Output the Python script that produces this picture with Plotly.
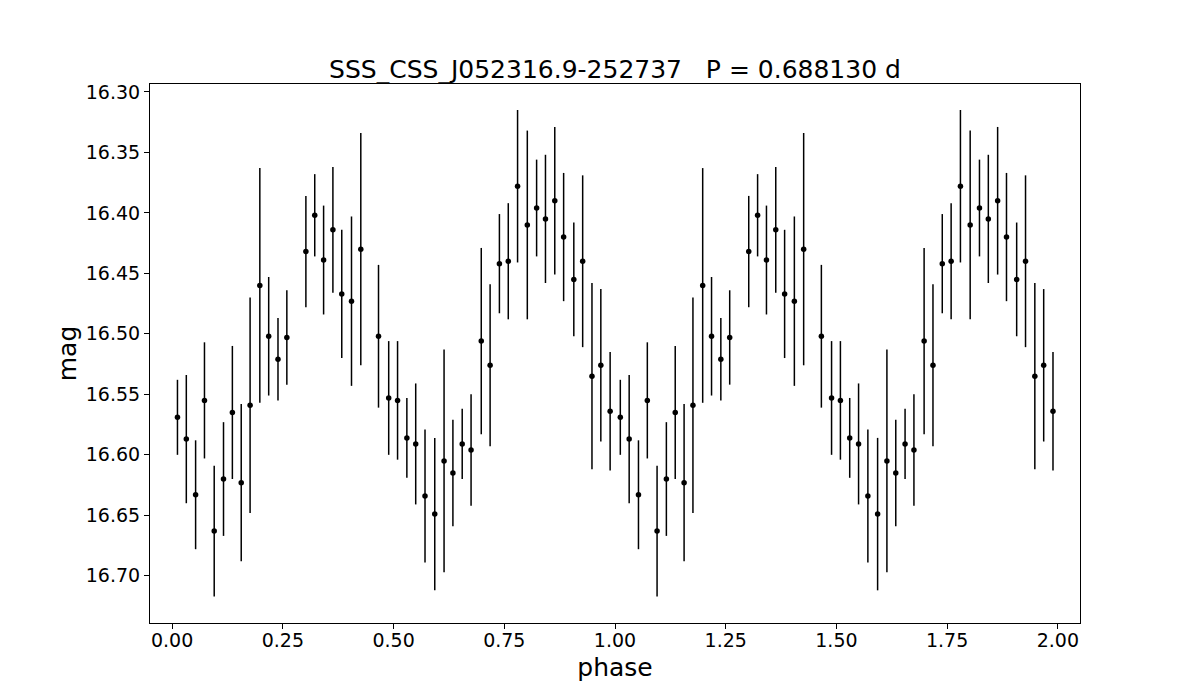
import plotly.graph_objects as go

# light curve folded on period, one cycle of data
star = "SSS_CSS_J052316.9-252737"
period = 0.688130

phase = [0.012, 0.032, 0.053, 0.073, 0.095, 0.116, 0.136, 0.156, 0.176, 0.198,
         0.218, 0.239, 0.259, 0.302, 0.322, 0.342, 0.363, 0.383, 0.405, 0.426,
         0.466, 0.489, 0.509, 0.530, 0.550, 0.571, 0.593, 0.614, 0.634, 0.655,
         0.675, 0.698, 0.718, 0.739, 0.759, 0.780, 0.802, 0.823, 0.843, 0.864,
         0.884, 0.907, 0.927, 0.948, 0.968, 0.989]
mag = [16.569, 16.587, 16.633, 16.555, 16.663, 16.620, 16.565, 16.623, 16.559, 16.460,
       16.502, 16.521, 16.503, 16.432, 16.402, 16.439, 16.414, 16.467, 16.473, 16.430,
       16.502, 16.553, 16.555, 16.586, 16.591, 16.634, 16.649, 16.605, 16.615, 16.591,
       16.596, 16.506, 16.526, 16.442, 16.440, 16.378, 16.410, 16.396, 16.405, 16.390,
       16.420, 16.455, 16.440, 16.535, 16.526, 16.564]
mag_err = [0.031, 0.053, 0.045, 0.048, 0.054, 0.047, 0.055, 0.065, 0.089, 0.097,
           0.049, 0.034, 0.039, 0.046, 0.034, 0.045, 0.052, 0.053, 0.070, 0.096,
           0.059, 0.047, 0.049, 0.033, 0.050, 0.055, 0.063, 0.092, 0.044, 0.029,
           0.046, 0.077, 0.067, 0.041, 0.048, 0.063, 0.078, 0.040, 0.053, 0.061,
           0.053, 0.047, 0.071, 0.077, 0.063, 0.049]

# show two cycles
x = phase + [p + 1 for p in phase]
y = mag + mag
e = mag_err + mag_err

FONT = "DejaVu Sans"

fig = go.Figure()
fig.add_trace(go.Scatter(
    x=x, y=y, mode="markers",
    marker=dict(color="black", size=5.5),
    error_y=dict(type="data", array=e, color="black", thickness=1.5, width=0),
    showlegend=False
))

# page body adds an 8px offset, margins are set to compensate
fig.update_layout(
    width=1200, height=700,
    paper_bgcolor="white", plot_bgcolor="white",
    margin=dict(l=142, r=128, t=76, b=85),
    font=dict(family=FONT, color="black"),
    title=dict(
        text=f"{star}\u00a0\u00a0\u00a0P = {period:.6f} d",
        font=dict(size=25, family=FONT, color="black"),
        x=(142 + 1072) / 2 / 1200, xanchor="center",
        y=1 - 61 / 700, yanchor="middle", yref="container"
    ),
    xaxis=dict(
        range=[-0.05, 2.05],
        tickvals=[0, 0.25, 0.5, 0.75, 1.0, 1.25, 1.5, 1.75, 2.0],
        tickformat=".2f",
        ticks="outside", ticklen=5, tickcolor="black", tickwidth=1,
        showline=True, linecolor="black", linewidth=1, mirror=True,
        showgrid=False, zeroline=False,
        tickfont=dict(size=19),
        ticklabelstandoff=-5,
        title=dict(text="phase", font=dict(size=25), standoff=8)
    ),
    yaxis=dict(
        range=[16.739, 16.2935],
        tickvals=[16.30, 16.35, 16.40, 16.45, 16.50, 16.55, 16.60, 16.65, 16.70],
        tickformat=".2f",
        ticks="outside", ticklen=5, tickcolor="black", tickwidth=1,
        showline=True, linecolor="black", linewidth=1, mirror=True,
        showgrid=False, zeroline=False,
        tickfont=dict(size=19),
        title=dict(text="mag", font=dict(size=25), standoff=2)
    )
)

fig.write_html("out.html")
